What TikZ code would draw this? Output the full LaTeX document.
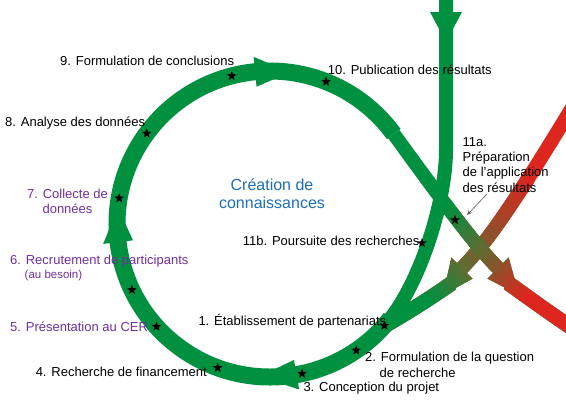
\documentclass[tikz,border=0pt]{standalone}
\usepackage{fontspec}
\setmainfont{Liberation Sans}
\usetikzlibrary{shapes.geometric,arrows.meta}
\definecolor{GR}{RGB}{0,145,64}
\definecolor{RD}{RGB}{220,38,30}
\definecolor{OL}{RGB}{95,108,50}
\definecolor{PU}{RGB}{112,48,160}
\definecolor{BL}{RGB}{30,110,185}
\newcommand{\slabclip}[4]{\clip ({(#3)*(#1)+600*(#2)},{(#3)*(#2)-600*(#1)}) -- ({(#4)*(#1)+600*(#2)},{(#4)*(#2)-600*(#1)}) -- ({(#4)*(#1)-600*(#2)},{(#4)*(#2)+600*(#1)}) -- ({(#3)*(#1)-600*(#2)},{(#3)*(#2)+600*(#1)}) -- cycle;}
\newcommand{\compA}[1]{%
  \draw[line width=14pt, draw=#1] (exitA) .. controls (445,204.5) and (475,245) .. (baseA);
  \fill[fill=#1] (487.4,278.6) -- (508.6,257.4) -- (519,295) -- cycle;
  \draw[line width=15pt, draw=#1] (508,283) .. controls (525,295) and (545,310) .. (575,330);}
\newcommand{\compB}[1]{%
  \draw[line width=14pt, draw=#1] (578,98) .. controls (528,180) and (492,238) .. (baseB);
  \fill[fill=#1] (472.6,278.6) -- (451.4,257.4) -- (443,295) -- cycle;
  \draw[line width=15pt, draw=#1] (452,283) .. controls (435,295) and (412,310) .. (386,325);}
\newcommand{\ringhead}[2]{\fill[GR] ({270+138*cos(#1)},{224+138*sin(#1)}) -- ({270+168*cos(#1)},{224+168*sin(#1)}) -- ({270+153*cos(#2)},{224+153*sin(#2)}) -- cycle;}
\begin{document}
\begin{tikzpicture}[x=1pt,y=-1pt,line cap=butt,
  ring/.style={draw=GR, line width=17pt},
  shaft/.style={draw=GR, line width=14pt},
  st/.style={star, star points=5, star point ratio=2.3, fill=black, inner sep=0pt, minimum size=10pt},
  lbl/.style={font=\fontsize{13}{15}\selectfont, inner sep=0pt, anchor=base west},
  ttl/.style={font=\fontsize{16}{19}\selectfont, text=BL, inner sep=0pt, anchor=base},
  ptr/.style={draw=black!65, line width=0.6pt, -{Stealth[length=5pt,width=4pt]}}]
\clip (0,0) rectangle (566,418);
\coordinate (C) at (270,224);
\coordinate (exitA) at ({270+153*cos(324)},{224+153*sin(324)});
\coordinate (ringstart) at ({270+153*cos(38)},{224+153*sin(38)});
\coordinate (baseA) at (498,268);
\coordinate (baseB) at (462,268);
% composite B (red -> green)
\compB{RD}
\foreach \s in {-250,-248,...,-142} {\pgfmathsetmacro\pc{100*(-140-\s)/110}\begin{scope}\slabclip{-0.7071}{0.7071}{\s}{\s+2.6}\compB{RD!\pc!OL}\end{scope}}
\foreach \s in {-140,-138,...,-97} {\pgfmathsetmacro\pc{100*(-95-\s)/45}\begin{scope}\slabclip{-0.7071}{0.7071}{\s}{\s+2.6}\compB{OL!\pc!GR}\end{scope}}
\begin{scope}\slabclip{-0.7071}{0.7071}{-95}{400}\compB{GR}\end{scope}
% composite A (green -> red)
\compA{GR}
\foreach \s in {460,462,...,514} {\pgfmathsetmacro\pc{100*(516-\s)/56}\begin{scope}\slabclip{0.7071}{0.7071}{\s}{\s+2.6}\compA{GR!\pc!OL}\end{scope}}
\foreach \s in {516,518,...,578} {\pgfmathsetmacro\pc{100*(580-\s)/64}\begin{scope}\slabclip{0.7071}{0.7071}{\s}{\s+2.6}\compA{OL!\pc!RD}\end{scope}}
\begin{scope}\slabclip{0.7071}{0.7071}{580}{1000}\compA{RD}\end{scope}
% ring and shaft
\draw[ring] (ringstart) arc[start angle=38, end angle=324, radius=153];
\coordinate (shtop) at (446,-5);
\coordinate (shbend) at (446,150);
\draw[shaft] (shtop) -- (shbend) .. controls (446,200) and (421.4,278.8) .. (ringstart);
\fill[GR] (430,12) -- (462,12) -- (446,42) -- cycle;
\ringhead{80}{94}
\ringhead{173.2}{186.2}
\ringhead{264.4}{277.5}
% stars
\foreach \n/\a in {1/41.6, 2/55.7, 3/77.9, 4/110, 5/137.9, 6/154.5, 7/189.7, 8/216.3, 9/255.5, 10/291.5}
  \node[st] (s\n) at ({270+153*cos(\a)},{224+153*sin(\a)}) {};
\node[st] (s11b) at (422,243) {};
\node[st] (s11a) at (455,220) {};
% labels
\node[lbl] (l9) at (60,65.5) {9. Formulation de conclusions};
\node[lbl] (l8) at (5,126) {8. Analyse des données};
\node[lbl] (l10) at (327.7,74) {10. Publication des résultats};
\node[lbl] (l11a1) at (462.5,146.5) {11a.};
\node[lbl] (l11a2) at (462.5,161.5) {Préparation};
\node[lbl] (l11a3) at (462.5,176.8) {de l’application};
\node[lbl] (l11a4) at (462.5,192) {des résultats};
\node[lbl, text=PU, anchor=base] (l7a) at (67.5,198.5) {7. Collecte de};
\node[lbl, text=PU, anchor=base] (l7b) at (67.5,213.5) {données};
\node[lbl, text=PU] (l6a) at (10,264) {6. Recrutement de participants};
\node[lbl, text=PU, font=\fontsize{11.5}{13}\selectfont] (l6b) at (24.5,278.5) {(au besoin)};
\node[lbl, text=PU] (l5) at (10,331) {5. Présentation au CER};
\node[lbl, anchor=base east] (l4) at (207,376.5) {4. Recherche de financement};
\node[lbl] (l3) at (303.3,391.5) {3. Conception du projet};
\node[lbl] (l2a) at (365,361.5) {2. Formulation de la question};
\node[lbl] (l2b) at (379.5,377) {de recherche};
\node[lbl] (l1) at (198.3,325) {1. Établissement de partenariats};
\node[lbl] (l11b) at (242.7,245) {11b. Poursuite des recherches};
\node[ttl] (t1) at (272,190) {Création de};
\node[ttl] (t2) at (272,208.5) {connaissances};
\coordinate (pa) at (487,194);
\coordinate (pb) at (467,215);
\draw[ptr] (pa) -- (pb);
\end{tikzpicture}
\end{document}
